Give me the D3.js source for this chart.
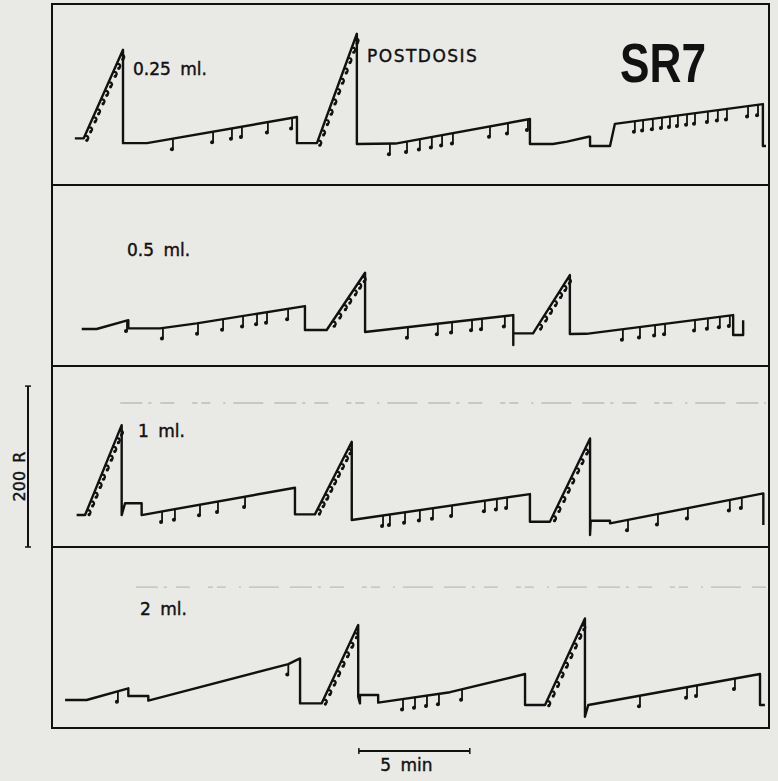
<!DOCTYPE html>
<html>
<head>
<meta charset="utf-8">
<script src="https://cdn.jsdelivr.net/npm/d3@7"></script>
<style>
  body { margin: 0; background: #e9e9e6; }
  text { font-family: "DejaVu Sans", sans-serif; fill: #111; }
  text.lbl { stroke: #111; stroke-width: 0.4; }
</style>
</head>
<body>
<div id="chart"></div>
<script>
// Cumulative records, time in minutes, cumulative responses (R)
const doses = ['0.25 ml.', '0.5 ml.', '1 ml.', '2 ml.'];

const record025 = [[0.85, 58], [1.25, 58], [3.02, 168], [3.02, 52], [4.1, 52], [10.86, 84.5], [10.86, 52],
  [11.76, 52], [13.56, 188], [13.56, 51], [15.3, 51.5], [21.36, 82], [21.36, 51], [22.4, 51], [23.03, 54],
  [24.0, 60], [24.07, 60], [24.07, 48.4], [24.97, 48.4], [25.19, 76], [31.86, 100.6], [31.86, 48.4], [32.0, 48.4]];
const pips025 = [5.27, 7.08, 7.93, 8.38, 9.55, 10.64, 15.05, 15.82, 16.4, 16.94, 17.4, 17.89, 19.56, 20.37, 21.27,
  26.09, 26.46, 26.9, 27.31, 27.67, 28.03, 28.44, 28.8, 29.38, 29.83, 30.24, 31.19, 31.64];
const rampPips025 = [1.3, 1.47, 1.67, 1.83, 2.03, 2.2, 2.37, 2.58, 2.74, 2.92,
  11.8, 11.97, 12.14, 12.31, 12.48, 12.65, 12.82, 12.99, 13.16, 13.33, 13.48];

const record05 = [[1.16, 46], [1.83, 46], [3.26, 57], [3.26, 46.8], [4.69, 46.8], [6.34, 53], [11.22, 74.5],
  [11.22, 44.7], [12.2, 44.7], [13.93, 115.9], [13.93, 42.2], [20.61, 63.3], [20.61, 26], [20.61, 40.6],
  [21.5, 40.6], [23.16, 113], [23.16, 39.7], [23.9, 40], [30.52, 63.3], [30.52, 38.5], [30.97, 38.5], [30.97, 57]];
const pips05 = [3.2, 4.82, 6.4, 7.53, 8.43, 9.06, 9.51, 10.46, 15.86, 17.21, 17.85, 18.75, 19.2, 20.23,
  25.55, 26.32, 27.0, 27.45, 28.8, 29.38, 29.92, 30.37];
const rampPips05 = [12.45, 12.7, 12.95, 13.15, 13.4, 13.6, 13.8, 21.75, 21.98, 22.2, 22.42, 22.65, 22.85, 23.05];

const record1 = [[0.93, 39.7], [1.31, 39.7], [2.96, 151.5], [2.96, 39.7], [3.11, 54.3], [3.86, 54.3], [3.86, 39.7],
  [10.77, 73.7], [10.77, 40.6], [11.67, 40.6], [13.33, 130.8], [13.33, 33.5], [21.36, 65.8], [21.36, 31.4],
  [22.26, 31.4], [24.07, 135], [24.07, 14.9], [24.1, 32.7], [24.97, 32.7], [24.97, 29.4], [31.88, 66.7], [31.88, 27.3]];
const pips1 = [4.78, 5.36, 6.49, 7.3, 8.52, 14.74, 15.05, 15.73, 16.4, 16.99, 17.85, 19.33, 19.87, 20.33,
  25.78, 27.13, 28.48, 30.37, 30.91];
const rampPips1 = [1.4, 1.56, 1.72, 1.9, 2.05, 2.22, 2.4, 2.56, 2.72, 2.86,
  11.78, 11.95, 12.12, 12.3, 12.47, 12.64, 12.82, 13.0, 13.16,
  22.38, 22.58, 22.8, 23.0, 23.2, 23.42, 23.62, 23.83];

const record2 = [[0.41, 34.8], [1.38, 34.8], [3.26, 49.3], [3.26, 39.7], [4.16, 39.7], [4.16, 34], [10.47, 79.5],
  [11.0, 86.5], [11.0, 30.6], [11.97, 30.6], [13.62, 127.9], [13.62, 38.9], [13.7, 30.6], [13.7, 41], [14.52, 41],
  [14.52, 31.5], [17.76, 44.5], [21.14, 67.1], [21.14, 28.6], [22.04, 28.6], [23.84, 136.2], [23.84, 14],
  [23.99, 28.6], [31.73, 67.1], [31.73, 28.6], [31.95, 28.6]];
const pips2 = [2.79, 10.47, 15.64, 16.18, 16.72, 17.26, 18.3, 26.32, 28.44, 28.89, 30.6];
const rampPips2 = [12.05, 12.25, 12.45, 12.65, 12.85, 13.05, 13.25, 13.45,
  22.12, 22.32, 22.52, 22.72, 22.92, 23.12, 23.32, 23.52, 23.7];

// faint streaks left on the scan: [panel, R, from t, to t]
const streaks = [[2, 179, 2.9, 32], [3, 175, 3.6, 32]];

const records = [record025, record05, record1, record2];
const pips = [pips025, pips05, pips1, pips2];
const rampPips = [rampPips025, rampPips05, rampPips1, rampPips2];

const width = 778, height = 781;
const panelTop = 4, panelH = 181;
const labelPos = [[133, 75], [127, 256], [138, 437], [140, 615]];

const svg = d3.select('#chart')
    .append('svg')
    .attr('width', width)
    .attr('height', height);

const x = d3.scaleLinear().domain([0, 32]).range([56, 766]);
const yPanel = i => d3.scaleLinear()
    .domain([0, 225])
    .range([panelTop + panelH * (i + 1), panelTop + panelH * (i + 1) - 181]);

// height of the record at time t (skips the vertical resets)
function levelAt(rec, t) {
    for (let k = 1; k < rec.length; k++) {
        const a = rec[k - 1], b = rec[k];
        if (b[0] > a[0] && t >= a[0] && t <= b[0]) {
            return a[1] + (b[1] - a[1]) * (t - a[0]) / (b[0] - a[0]);
        }
    }
    return rec[0][1];
}

// frame
svg.append('rect')
    .attr('x', 52).attr('y', panelTop)
    .attr('width', 717).attr('height', panelH * 4)
    .attr('fill', 'none').attr('stroke', '#111').attr('stroke-width', 2);

for (let i = 1; i < 4; i++) {
    svg.append('line')
        .attr('x1', 52).attr('x2', 769)
        .attr('y1', panelTop + panelH * i).attr('y2', panelTop + panelH * i)
        .attr('stroke', '#111').attr('stroke-width', 2);
}

// scan streaks
streaks.forEach(s => {
    const y = yPanel(s[0]);
    svg.append('line')
        .attr('x1', x(s[2])).attr('x2', x(s[3]))
        .attr('y1', y(s[1])).attr('y2', y(s[1]))
        .attr('stroke', '#666').attr('stroke-opacity', 0.35)
        .attr('stroke-width', 1.3)
        .attr('stroke-dasharray', '22 6 3 9 14 18 5 4 9 13 2 8 30 11');
});

records.forEach((rec, i) => {
    const y = yPanel(i);
    const g = svg.append('g');

    g.append('path')
        .datum(rec)
        .attr('d', d3.line().x(d => x(d[0])).y(d => y(d[1])))
        .attr('fill', 'none')
        .attr('stroke', '#111')
        .attr('stroke-width', 2.4)
        .attr('stroke-linejoin', 'round');

    // event pips on the slow parts: drop down with a small foot
    g.selectAll('path.pip')
        .data(pips[i])
        .join('path')
        .attr('class', 'pip')
        .attr('d', t => {
            const px = x(t), py = y(levelAt(rec, t));
            return `M${px},${py} L${px},${py + 9} Q${px},${py + 11} ${px - 2},${py + 11}`;
        })
        .attr('fill', 'none').attr('stroke', '#111').attr('stroke-width', 1.8);

    g.selectAll('circle.pip')
        .data(pips[i])
        .join('circle')
        .attr('class', 'pip')
        .attr('cx', t => x(t) - 1)
        .attr('cy', t => y(levelAt(rec, t)) + 10.5)
        .attr('r', 2)
        .attr('fill', '#111');

    // pips on the steep runs: small hooks hugging the right side
    g.selectAll('path.rpip')
        .data(rampPips[i])
        .join('path')
        .attr('class', 'rpip')
        .attr('d', t => {
            const px = x(t), py = y(levelAt(rec, t));
            return `M${px},${py} C${px + 4},${py - 0.5} ${px + 4.5},${py + 3} ${px + 1.5},${py + 4.5}`;
        })
        .attr('fill', 'none').attr('stroke', '#111').attr('stroke-width', 2.2);

    g.selectAll('circle.rpip')
        .data(rampPips[i])
        .join('circle')
        .attr('class', 'rpip')
        .attr('cx', t => x(t) + 2)
        .attr('cy', t => y(levelAt(rec, t)) + 4.5)
        .attr('r', 1.6)
        .attr('fill', '#111');

    svg.append('text')
        .attr('class', 'lbl')
        .attr('x', labelPos[i][0]).attr('y', labelPos[i][1])
        .attr('font-size', 17)
        .attr('word-spacing', 4)
        .text(doses[i]);
});

svg.append('text')
    .attr('class', 'lbl')
    .attr('x', 367).attr('y', 62)
    .attr('font-size', 17)
    .attr('letter-spacing', 1.5)
    .text('POSTDOSIS');

svg.append('text')
    .attr('x', 620).attr('y', 82)
    .attr('font-size', 56)
    .attr('font-weight', 'bold')
    .style('font-family', '"Liberation Sans", Arial, sans-serif')
    .attr('textLength', 86)
    .attr('lengthAdjust', 'spacingAndGlyphs')
    .text('SR7');

// 200 R calibration bar
const y3 = yPanel(2);
const calX = 28;
svg.append('line')
    .attr('x1', calX).attr('x2', calX)
    .attr('y1', y3(0)).attr('y2', y3(200))
    .attr('stroke', '#111').attr('stroke-width', 2);
[0, 200].forEach(r => svg.append('line')
    .attr('x1', calX - 3).attr('x2', calX + 3)
    .attr('y1', y3(r)).attr('y2', y3(r))
    .attr('stroke', '#111').attr('stroke-width', 1.5));
svg.append('text')
    .attr('class', 'lbl')
    .attr('transform', `translate(25,${(y3(0) + y3(200)) / 2 + 10}) rotate(-90)`)
    .attr('text-anchor', 'middle')
    .attr('font-size', 16)
    .attr('word-spacing', 3)
    .text('200 R');

// 5 min bar
const barY = 751;
svg.append('line')
    .attr('x1', x(13.65)).attr('x2', x(18.65))
    .attr('y1', barY).attr('y2', barY)
    .attr('stroke', '#111').attr('stroke-width', 2);
[13.65, 18.65].forEach(t => svg.append('line')
    .attr('x1', x(t)).attr('x2', x(t))
    .attr('y1', barY - 3).attr('y2', barY + 3)
    .attr('stroke', '#111').attr('stroke-width', 1.5));
svg.append('text')
    .attr('class', 'lbl')
    .attr('x', (x(13.65) + x(18.65)) / 2 - 8).attr('y', 771)
    .attr('text-anchor', 'middle')
    .attr('font-size', 17)
    .attr('word-spacing', 4)
    .text('5 min');
</script>
</body>
</html>
